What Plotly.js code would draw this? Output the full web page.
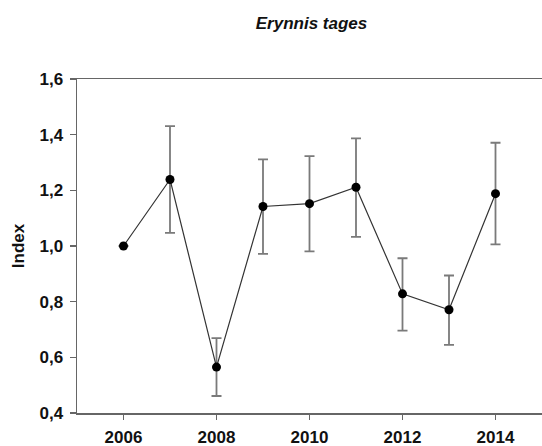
<!DOCTYPE html>
<html>
<head>
<meta charset="utf-8">
<script src="https://cdn.plot.ly/plotly-3.0.1.min.js"></script>
<style>html,body{margin:0;padding:0;overflow:hidden;background:#fff;}</style>
</head>
<body>
<div id="chart" style="width:542px;height:446px;"></div>
<script>
const years = [2006, 2007, 2008, 2009, 2010, 2011, 2012, 2013, 2014];
const indexValues = [1.000, 1.239, 0.565, 1.142, 1.152, 1.211, 0.828, 0.771, 1.188];
const upperBounds = [1.000, 1.431, 0.669, 1.311, 1.323, 1.387, 0.956, 0.894, 1.371];
const lowerBounds = [1.000, 1.047, 0.461, 0.972, 0.981, 1.033, 0.696, 0.645, 1.006];
const xTickVals = [2006, 2008, 2010, 2012, 2014];
const xTickText = ["2006", "2008", "2010", "2012", "2014"];
const yTickVals = [0.4, 0.6, 0.8, 1.0, 1.2, 1.4, 1.6];
const yTickText = ["0,4", "0,6", "0,8", "1,0", "1,2", "1,4", "1,6"];

const errPlus = indexValues.map((v, i) => upperBounds[i] - v);
const errMinus = indexValues.map((v, i) => v - lowerBounds[i]);

const FONT = "Liberation Sans, Arial, sans-serif";

const trace = {
  x: years,
  y: indexValues,
  type: "scatter",
  mode: "lines+markers",
  line: {color: "#333333", width: 1.2},
  marker: {color: "#000000", size: 9},
  error_y: {
    type: "data",
    symmetric: false,
    array: errPlus,
    arrayminus: errMinus,
    color: "#7a7a7a",
    thickness: 1.8,
    width: 5
  },
  cliponaxis: false,
  hoverinfo: "skip"
};

const layout = {
  width: 542,
  height: 446,
  margin: {l: 77, r: 0, t: 79, b: 33, pad: 0},
  paper_bgcolor: "#ffffff",
  plot_bgcolor: "#ffffff",
  showlegend: false,
  font: {family: FONT, color: "#111111", size: 17},
  title: {
    text: "Erynnis tages",
    font: {family: FONT, size: 17, weight: "bold", style: "italic", color: "#111111"},
    xref: "container", x: 311.5 / 542, xanchor: "center",
    yref: "container", y: 1 - 23 / 446, yanchor: "middle"
  },
  xaxis: {
    range: [2005, 2015],
    tickvals: xTickVals,
    ticktext: xTickText,
    ticks: "outside",
    ticklen: 5,
    tickwidth: 1.5,
    tickcolor: "#666666",
    ticklabelstandoff: 3,
    showline: true,
    linecolor: "#666666",
    linewidth: 1.5,
    mirror: true,
    showgrid: false,
    zeroline: false,
    tickfont: {family: FONT, size: 17, weight: "bold", color: "#111111"},
    fixedrange: true
  },
  yaxis: {
    range: [0.4, 1.6],
    tickvals: yTickVals,
    ticktext: yTickText,
    ticks: "outside",
    ticklen: 6,
    tickwidth: 1.5,
    tickcolor: "#666666",
    ticklabelstandoff: 3,
    showline: true,
    linecolor: "#666666",
    linewidth: 1.5,
    mirror: false,
    showgrid: false,
    zeroline: false,
    tickfont: {family: FONT, size: 17, weight: "bold", color: "#111111"},
    title: {
      text: "Index",
      font: {family: FONT, size: 17, weight: "bold", color: "#111111"},
      standoff: 10
    },
    automargin: false,
    fixedrange: true
  }
};

Plotly.newPlot("chart", [trace], layout, {displayModeBar: false, staticPlot: true});
</script>
</body>
</html>
